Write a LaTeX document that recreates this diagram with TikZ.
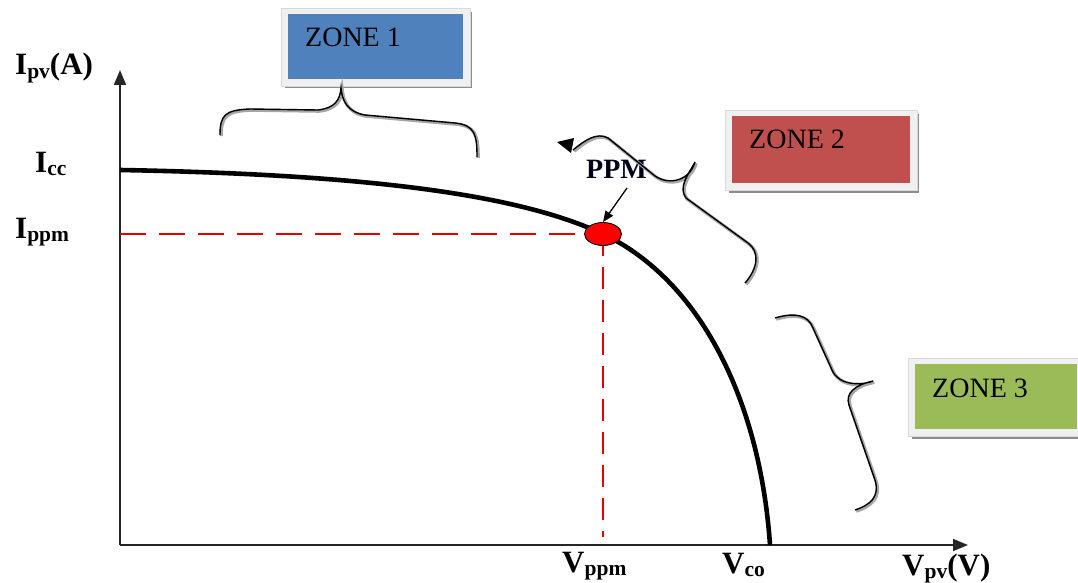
\documentclass[tikz,border=0pt]{standalone}
\usepackage{fontspec}
\setmainfont{Liberation Serif}
\usetikzlibrary{arrows.meta,shapes.geometric}
\definecolor{zblue}{HTML}{4F81BD}
\definecolor{zred}{HTML}{C0504D}
\definecolor{zgreen}{HTML}{9BBB59}
\newcommand\axl[2]{\textbf{#1}\raisebox{-0.12em}{\fontsize{21.5}{21.5}\selectfont\textbf{#2}}}
\tikzset{
  axislabel/.style={anchor=base west, inner sep=0pt, font=\fontsize{31}{31}\selectfont},
  axisline/.style={line width=1.8pt, draw=black!85, -{Triangle[length=15pt,width=12pt]}},
  curveline/.style={line width=4.6pt, black},
  reddash/.style={line width=2.4pt, red!90!black, dash pattern=on 26pt off 13pt},
  zonetext/.style={anchor=base west, inner sep=0pt, font=\fontsize{28}{28}\selectfont},
  bracegray/.style={line width=3.2pt, black!35, shift={(1.2,1.2)}},
  braceblack/.style={line width=1.4pt, black},
}
\newcommand\zonebox[5]{% x1 y1 x2 y2 color
  \fill[black!45] (#1+4,#2+4) rectangle (#3+2,#4+2.5);
  \fill[black!6] (#1,#2) rectangle (#3,#4);
  \draw[black!15, line width=0.6pt] (#1,#2) rectangle (#3,#4);
  \fill[#5] (#1+6.5,#2+6) rectangle (#3-7,#4-7);
}
\begin{document}
\begin{tikzpicture}[x=1pt,y=-1pt]
\useasboundingbox (0,0) rectangle (1078,583);
% zone boxes
\zonebox{281}{8}{470}{86}{zblue}
\zonebox{725}{110}{917}{190}{zred}
\zonebox{908}{358}{1084}{436}{zgreen}
\node[zonetext] (z1) at (305,47) {ZONE 1};
\node[zonetext] (z2) at (749,148) {ZONE 2};
\node[zonetext] (z3) at (932,397) {ZONE 3};
% axes
\coordinate (O) at (120,545);
\coordinate (ytop) at (120,70);
\coordinate (xend) at (968,545);
\draw[axisline] (O) -- (ytop);
\draw[axisline] (O) -- (xend);
% axis labels
\node[axislabel] (ipv) at (15,75) {\axl{I}{pv}\textbf{(A)}};
\node[axislabel] (icc) at (35,172) {\axl{I}{cc}};
\node[axislabel] (ippm) at (15,238) {\axl{I}{ppm}};
\node[axislabel] (vppm) at (562,572) {\axl{V}{ppm}};
\node[axislabel] (vco) at (722,573) {\axl{V}{co}};
\node[axislabel] (vpv) at (902,575) {\axl{V}{pv}\textbf{(V)}};
% PPM point
\coordinate (ppmc) at (603,234);
\coordinate (ippmax) at (120,234);
\coordinate (vppmax) at (603,537);
\draw[reddash] (ippmax) -- (ppmc);
\draw[reddash, dash pattern=on 22pt off 11pt] (ppmc) -- (vppmax);
% curve
\coordinate (iccpt) at (120,170);
\coordinate (vcopt) at (770,545);
\draw[curveline] (iccpt) .. controls (400,175) and (530,200) .. (ppmc)
  .. controls (700,280) and (760,400) .. (vcopt);
\node[ellipse, draw=black, line width=0.9pt, fill=red, minimum width=37pt, minimum height=23pt, inner sep=0pt] (ppm) at (ppmc) {};
\node[anchor=base west, inner sep=0pt, font=\fontsize{28}{28}\selectfont\bfseries, text=black!90!blue] (ppmlab) at (586,178) {PPM};
\coordinate (pa) at (627,188);
\draw[line width=1.3pt, -{Triangle[length=11pt,width=9pt]}] (pa) -- (ppm.north);
% braces
\foreach \s in {bracegray,braceblack}{
  \draw[\s] (220,135) .. controls (220,115) and (225,110) .. (250,109) -- (318,110)
    .. controls (335,108) and (340,100) .. (341,88)
    .. controls (342,100) and (347,112) .. (365,115) -- (455,123)
    .. controls (475,125) and (477,135) .. (477,157);
  \draw[\s] (573,150) .. controls (585,140) and (597,132) .. (608,138) -- (655,176)
    .. controls (670,186) and (690,180) .. (695,162)
    .. controls (688,175) and (678,187) .. (686,198) -- (748,243)
    .. controls (760,252) and (758,268) .. (745,283);
  \draw[\s] (775,318) .. controls (795,312) and (808,315) .. (813,328) -- (832,370)
    .. controls (838,385) and (860,386) .. (873,381)
    .. controls (855,385) and (845,393) .. (849,405) -- (875,480)
    .. controls (880,497) and (870,505) .. (855,510);
}
\fill[black] (557,142) -- (574,138) -- (571,153) -- cycle;
\end{tikzpicture}
\end{document}
